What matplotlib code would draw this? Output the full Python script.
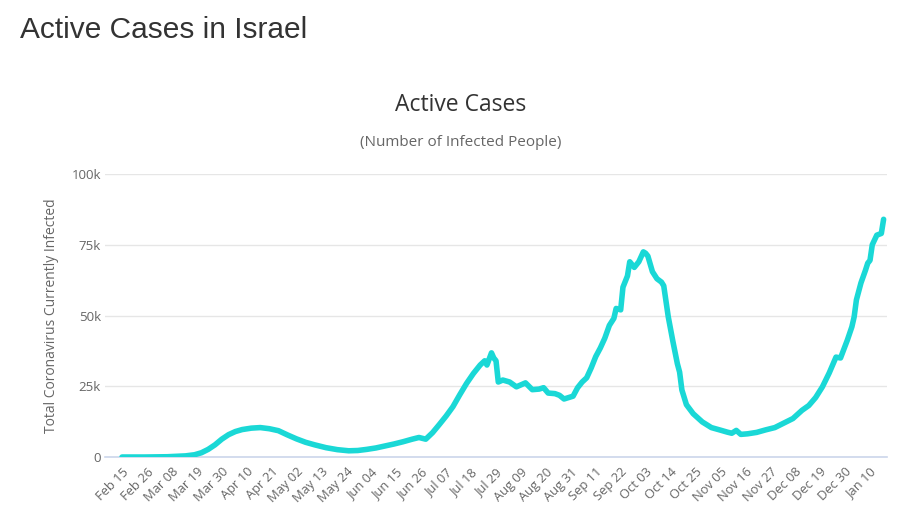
import pandas as pd
import matplotlib
matplotlib.use("Agg")
import matplotlib.pyplot as plt

# Serie : cas actifs en Israël (milliers), jours écoulés depuis le 15 février 2020
START_DATE = "2020-02-15"
days = [0, 10, 20, 28, 32, 35, 38, 41, 44, 47, 50, 53, 57, 61, 65, 69, 73, 77, 81,
        85, 90, 95, 100, 104, 108, 112, 116, 120, 124, 128, 131, 134, 137, 140,
        143, 146, 149, 152, 155, 158, 160, 161, 163, 164, 165, 166, 168, 171,
        174, 176, 178, 181, 184, 186, 188, 191, 193, 195, 197, 199, 201, 203,
        205, 207, 209, 211, 213, 215, 217, 218, 220, 221, 223, 224, 226, 228,
        230, 231, 232, 234, 236, 238, 239, 241, 243, 245, 246, 247, 249, 252,
        256, 260, 264, 267, 269, 271, 273, 276, 280, 284, 288, 292, 296, 300,
        303, 306, 309, 312, 315, 317, 320, 322, 323, 324, 326, 328, 329, 330,
        331, 333, 335, 336]
active_k = [0.0, 0.0, 0.1, 0.4, 0.8, 1.5, 2.7, 4.3, 6.3, 7.9, 9.0, 9.7, 10.2, 10.4,
            10.0, 9.3, 7.8, 6.4, 5.2, 4.3, 3.3, 2.6, 2.2, 2.3, 2.7, 3.2, 3.9, 4.6,
            5.4, 6.3, 6.9, 6.3, 8.6, 11.5, 14.5, 17.8, 22.0, 26.0, 29.5, 32.5,
            34.0, 32.5, 36.8, 35.0, 34.0, 26.5, 27.2, 26.5, 24.8, 25.5, 26.2,
            23.8, 24.0, 24.5, 22.6, 22.4, 21.8, 20.5, 21.0, 21.5, 24.5, 26.5,
            28.0, 31.5, 35.5, 38.5, 42.0, 46.5, 49.0, 52.5, 52.0, 60.0, 64.0,
            69.0, 67.0, 69.0, 72.5, 72.0, 71.0, 65.5, 63.0, 61.8, 60.5, 49.5,
            41.0, 33.0, 30.0, 23.7, 18.5, 15.3, 12.4, 10.4, 9.5, 8.8, 8.4, 9.4,
            8.0, 8.2, 8.7, 9.6, 10.4, 12.0, 13.6, 16.5, 18.2, 21.0, 24.8, 29.7,
            35.3, 35.0, 41.3, 46.0, 49.5, 55.5, 61.5, 66.0, 68.5, 69.5, 75.0,
            78.4, 79.0, 84.0]
y_ticks_k = [0, 25, 50, 75, 100]
y_tick_labels = ["0", "25k", "50k", "75k", "100k"]
TICK_STEP = 11
N_TICKS = 31

LINE_COLOR = "#1ad8d6"
TEXT_COLOR = "#666666"

tick_dates = pd.date_range(START_DATE, periods=N_TICKS, freq=f"{TICK_STEP}D")
tick_pos = [(d - pd.Timestamp(START_DATE)).days for d in tick_dates]
tick_labels = [d.strftime("%b %d") for d in tick_dates]

fig = plt.figure(figsize=(9.23, 5.27), dpi=100)
fig.patch.set_facecolor("white")
ax = fig.add_axes([0.1138, 0.1328, 0.8472, 0.537])

ax.plot(days, active_k, color=LINE_COLOR, lw=4.0, solid_joinstyle="round",
        solid_capstyle="round", zorder=3)

ax.set_xlim(-7.5, 337.5)
ax.set_ylim(0, 100)
ax.set_yticks(y_ticks_k)
ax.set_yticklabels(y_tick_labels, family="Open Sans", fontsize=9.5, color=TEXT_COLOR)
ax.set_xticks(tick_pos)
ax.set_xticklabels(tick_labels, rotation=45, ha="right", va="top",
                   rotation_mode="anchor", family="Open Sans", fontsize=9.3,
                   color=TEXT_COLOR)
ax.tick_params(axis="both", length=0)
ax.tick_params(axis="y", pad=3)
ax.tick_params(axis="x", pad=6)

ax.yaxis.grid(True, color="#e6e6e6", lw=1)
ax.set_axisbelow(True)
for side in ["top", "right", "left"]:
    ax.spines[side].set_visible(False)
ax.spines["bottom"].set_color("#ccd6eb")
ax.spines["bottom"].set_linewidth(1.2)

ax.set_ylabel("Total Coronavirus Currently Infected", family="Open Sans",
              fontsize=10, color=TEXT_COLOR, labelpad=9)

fig.text(20 / 923, 1 - 30 / 527, "Active Cases in Israel", family="Liberation Sans",
         fontsize=21.5, color="#333333", ha="left", va="center")
fig.text(461 / 923, 1 - 105 / 527, "Active Cases", family="Open Sans",
         fontsize=16.5, color="#333333", ha="center", va="center")
fig.text(461 / 923, 1 - 143 / 527, "(Number of Infected People)", family="Open Sans",
         fontsize=11, color=TEXT_COLOR, ha="center", va="center")

fig.savefig("out.png", dpi=100)
plt.close(fig)
